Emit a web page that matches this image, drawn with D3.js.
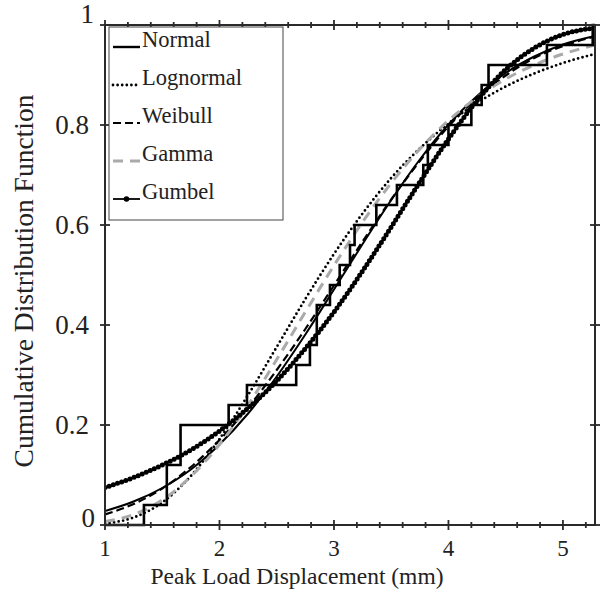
<!DOCTYPE html>
<html><head><meta charset="utf-8">
<script src="https://cdn.jsdelivr.net/npm/d3@7"></script>
<style>html,body{margin:0;padding:0;background:#fff;} svg{display:block;}</style>
</head><body>
<svg id="chart" width="600" height="598"></svg>
<script>
// ---- data ----
const xTicks = [1, 2, 3, 4, 5];
const xTickLabels = ["1", "2", "3", "4", "5"];
const yTicks = [0, 0.2, 0.4, 0.6, 0.8, 1];
const yTickLabels = ["0", "0.2", "0.4", "0.6", "0.8", "1"];

// empirical CDF (step function): jump positions and cumulative values
const ecdfX = [1.0, 1.34, 1.54, 1.54, 1.66, 1.66, 2.08, 2.24, 2.67, 2.79, 2.85, 2.85, 2.965, 3.05, 3.14, 3.18, 3.37, 3.55, 3.78, 3.82, 4.0, 4.2, 4.29, 4.35, 4.86, 5.26, 5.28];
const ecdfY = [0, 0.04, 0.08, 0.12, 0.16, 0.20, 0.24, 0.28, 0.32, 0.36, 0.40, 0.44, 0.48, 0.52, 0.56, 0.60, 0.64, 0.68, 0.72, 0.76, 0.80, 0.84, 0.88, 0.92, 0.96, 1.0, 1.0];

// fitted CDF curves, read at these displacements
const gridX      = [1.00, 1.25, 1.50, 1.75, 2.00, 2.25, 2.50, 2.75, 3.00, 3.25, 3.50, 3.75, 4.00, 4.25, 4.50, 4.75, 5.00, 5.28];
const normalY    = [0.028, 0.047, 0.074, 0.111, 0.161, 0.223, 0.297, 0.381, 0.471, 0.562, 0.650, 0.731, 0.801, 0.858, 0.904, 0.937, 0.961, 0.978];
const lognormalY = [0.003, 0.015, 0.045, 0.098, 0.172, 0.260, 0.356, 0.452, 0.542, 0.623, 0.694, 0.753, 0.803, 0.844, 0.877, 0.903, 0.924, 0.942];
const weibullY   = [0.021, 0.042, 0.073, 0.116, 0.170, 0.235, 0.310, 0.392, 0.479, 0.567, 0.651, 0.728, 0.797, 0.854, 0.899, 0.934, 0.958, 0.977];
const gammaY     = [0.007, 0.021, 0.050, 0.097, 0.161, 0.240, 0.331, 0.426, 0.519, 0.606, 0.684, 0.752, 0.809, 0.855, 0.892, 0.920, 0.942, 0.960];
const gumbelY    = [0.075, 0.095, 0.120, 0.150, 0.188, 0.234, 0.288, 0.353, 0.426, 0.508, 0.596, 0.686, 0.772, 0.849, 0.911, 0.954, 0.981, 0.994];

const seriesNames = ["Normal", "Lognormal", "Weibull", "Gamma", "Gumbel"];

// ---- layout ----
const svg = d3.select("#chart");
const font = "'Liberation Serif', 'Times New Roman', serif";

const L = 105, R = 595, T = 25, B = 525;
const x = d3.scaleLinear().domain([1, 5.28]).range([L, R]);
const y = d3.scaleLinear().domain([0, 1]).range([B, T]);

svg.append("defs").append("clipPath").attr("id", "clip")
  .append("rect").attr("x", L).attr("y", T - 2).attr("width", R - L).attr("height", B - T + 4);

const styles = {
  Normal:    {stroke: "#000", width: 2,   dash: null, cap: "butt"},
  Lognormal: {stroke: "#000", width: 2.8, dash: "0 4.6", cap: "round"},
  Weibull:   {stroke: "#000", width: 2.2, dash: "8 4", cap: "butt"},
  Gamma:     {stroke: "#aaa", width: 3,   dash: "10 7", cap: "butt"},
  Gumbel:    {stroke: "#000", width: 1.8, dash: null, cap: "butt"}
};
const seriesData = {Normal: normalY, Lognormal: lognormalY, Weibull: weibullY, Gamma: gammaY, Gumbel: gumbelY};

const line = d3.line().x(d => x(d[0])).y(d => y(d[1])).curve(d3.curveMonotoneX);
const plot = svg.append("g").attr("clip-path", "url(#clip)");

seriesNames.forEach(name => {
  const pts = gridX.map((v, i) => [v, seriesData[name][i]]);
  const s = styles[name];
  plot.append("path").attr("d", line(pts)).attr("fill", "none")
    .attr("stroke", s.stroke).attr("stroke-width", s.width)
    .attr("stroke-dasharray", s.dash).attr("stroke-linecap", s.cap);
  if (name === "Gumbel") {
    plot.append("path").attr("d", line(pts)).attr("fill", "none")
      .attr("stroke", "#000").attr("stroke-width", 5)
      .attr("stroke-dasharray", "0 4.4").attr("stroke-linecap", "round");
  }
});

// empirical step function
const stepLine = d3.line().x(d => x(d[0])).y(d => y(d[1])).curve(d3.curveStepAfter);
plot.append("path").attr("d", stepLine(ecdfX.map((v, i) => [v, ecdfY[i]])))
  .attr("fill", "none").attr("stroke", "#000").attr("stroke-width", 2.6);

// ---- frame and ticks ----
const axisColor = "#2a2a2a";
svg.append("rect").attr("x", L).attr("y", T).attr("width", R - L).attr("height", B - T)
  .attr("fill", "none").attr("stroke", axisColor).attr("stroke-width", 2);

const minorX = d3.range(1.2, 5.28, 0.2).filter(v => Math.abs(v - Math.round(v)) > 1e-6);
const tickG = svg.append("g").attr("stroke", axisColor).attr("stroke-width", 1.8);
[B, T].forEach(yy => {
  xTicks.forEach(v => tickG.append("line").attr("x1", x(v)).attr("x2", x(v)).attr("y1", yy - 5).attr("y2", yy + 5));
  minorX.forEach(v => tickG.append("line").attr("x1", x(v)).attr("x2", x(v)).attr("y1", yy - 3).attr("y2", yy + 3));
});
[L, R].forEach(xx => {
  yTicks.forEach(v => tickG.append("line").attr("y1", y(v)).attr("y2", y(v)).attr("x1", xx - 5).attr("x2", xx + 5));
});

// tick labels
const lab = svg.append("g").style("font-family", font).attr("fill", "#222");
xTicks.forEach((v, i) => lab.append("text").attr("x", x(v)).attr("y", 556)
  .attr("font-size", 23).attr("text-anchor", "middle").text(xTickLabels[i]));
yTicks.forEach((v, i) => {
  let yy = y(v) + 8.5, xx = 89;
  if (v === 1) { yy = y(v) - 2; xx = 94; }
  if (v === 0) { yy = y(v) + 2; xx = 95; }
  lab.append("text").attr("x", xx).attr("y", yy).attr("font-size", 27)
    .attr("text-anchor", "end").text(yTickLabels[i]);
});

// axis titles
svg.append("text").attr("x", 297).attr("y", 584).attr("text-anchor", "middle")
  .style("font-family", font).attr("font-size", 23.5).attr("fill", "#222")
  .text("Peak Load Displacement (mm)");
svg.append("text").attr("transform", "translate(33,281) rotate(-90)").attr("text-anchor", "middle")
  .style("font-family", font).attr("font-size", 27.5).attr("fill", "#222")
  .text("Cumulative Distribution Function");

// ---- legend ----
const lg = svg.append("g");
lg.append("rect").attr("x", 109).attr("y", 27).attr("width", 174).attr("height", 193)
  .attr("fill", "#fff").attr("stroke", "#444").attr("stroke-width", 1);
seriesNames.forEach((name, i) => {
  const by = 47 + i * 38;
  const s = styles[name];
  lg.append("line").attr("x1", 113).attr("x2", 140).attr("y1", by).attr("y2", by)
    .attr("stroke", s.stroke).attr("stroke-width", name === "Normal" ? 2.4 : s.width)
    .attr("stroke-dasharray", s.dash).attr("stroke-linecap", s.cap);
  if (name === "Gumbel") {
    lg.append("circle").attr("cx", 126.5).attr("cy", by).attr("r", 2.8).attr("fill", "#000");
  }
  lg.append("text").attr("x", 142).attr("y", by).style("font-family", font)
    .attr("font-size", 22.5).attr("fill", "#222").text(name);
});
</script>
</body></html>
